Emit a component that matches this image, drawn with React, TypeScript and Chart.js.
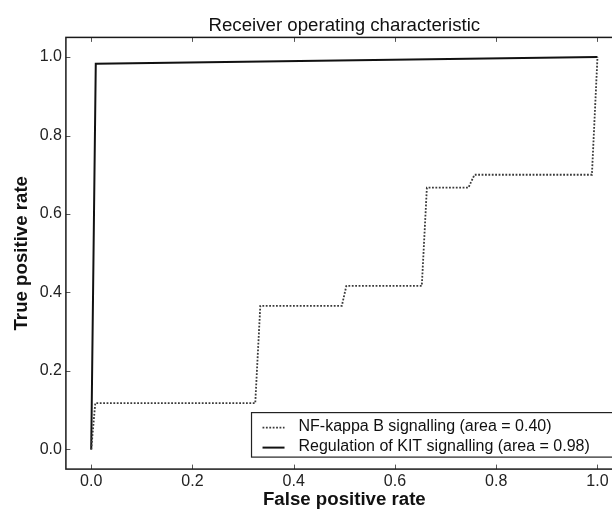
import { useEffect, useRef } from "react";
import { Chart, registerables } from "chart.js";

Chart.register(...registerables);

// ROC curve points (false positive rate, true positive rate)
const nfkbFpr = [0, 0.008, 0.324, 0.334, 0.495, 0.504, 0.653, 0.663, 0.745, 0.757, 0.989, 1.0];
const nfkbTpr = [0, 0.118, 0.118, 0.366, 0.366, 0.417, 0.417, 0.667, 0.667, 0.7, 0.7, 1.0];
const kitFpr = [0, 0.009, 1.0];
const kitTpr = [0, 0.983, 1.0];

const seriesLabels = [
  "NF-kappa B signalling (area = 0.40)",
  "Regulation of KIT signalling (area = 0.98)",
];
const tickValues = [0, 0.2, 0.4, 0.6, 0.8, 1.0];
const titleText = "Receiver operating characteristic";
const xTitle = "False positive rate";
const yTitle = "True positive rate";

const FONT = '"Liberation Sans", Arial, Helvetica, sans-serif';
const CANVAS_W = 640;
const CANVAS_H = 511;

const toPoints = (xs: number[], ys: number[]) => xs.map((x, i) => ({ x, y: ys[i] }));

// Axes frame with inward-pointing tick marks on all four sides
const frameTicks = {
  id: "frameTicks",
  afterDatasetsDraw(chart: any) {
    const { ctx, chartArea: a, scales } = chart;
    ctx.save();
    ctx.strokeStyle = "#555";
    ctx.lineWidth = 1;
    const len = 4.5;
    ctx.beginPath();
    for (const v of tickValues) {
      const px = Math.round(scales.x.getPixelForValue(v)) + 0.5;
      ctx.moveTo(px, a.bottom);
      ctx.lineTo(px, a.bottom - len);
      ctx.moveTo(px, a.top);
      ctx.lineTo(px, a.top + len);
      const py = Math.round(scales.y.getPixelForValue(v)) + 0.5;
      ctx.moveTo(a.left, py);
      ctx.lineTo(a.left + len, py);
      ctx.moveTo(a.right, py);
      ctx.lineTo(a.right - len, py);
    }
    ctx.stroke();
    ctx.strokeStyle = "#1a1a1a";
    ctx.lineWidth = 1.5;
    ctx.strokeRect(a.left, a.top, a.right - a.left, a.bottom - a.top);
    ctx.restore();
  },
};

// Legend boxed in the lower right corner of the plot
const insetLegend = {
  id: "insetLegend",
  afterDraw(chart: any) {
    const { ctx, chartArea: a } = chart;
    const ds = chart.data.datasets;
    ctx.save();
    ctx.font = `16px ${FONT}`;
    const textW = Math.max(...ds.map((d: any) => ctx.measureText(d.label).width));
    const right = a.right - 8;
    const bottom = a.bottom - 12;
    const width = 47 + textW + 25;
    const height = 44.5;
    const left = right - width;
    const top = bottom - height;
    ctx.fillStyle = "#fff";
    ctx.fillRect(left, top, width, height);
    ctx.strokeStyle = "#222";
    ctx.lineWidth = 1.2;
    ctx.strokeRect(left, top, width, height);
    ds.forEach((d: any, i: number) => {
      const y = top + 15 + i * 20;
      ctx.beginPath();
      ctx.setLineDash(d.borderDash || []);
      ctx.strokeStyle = d.borderColor;
      ctx.lineWidth = d.borderWidth;
      ctx.moveTo(left + 11, y);
      ctx.lineTo(left + 33, y);
      ctx.stroke();
      ctx.setLineDash([]);
      ctx.fillStyle = "#111";
      ctx.textBaseline = "middle";
      ctx.textAlign = "left";
      ctx.fillText(d.label, left + 47, y - 1);
    });
    ctx.restore();
  },
};

export default function App() {
  const canvasRef = useRef<HTMLCanvasElement | null>(null);

  useEffect(() => {
    const canvas = canvasRef.current;
    if (!canvas) return;
    const tickFont = { family: FONT, size: 16 };
    const axisTitleFont = { family: FONT, size: 18.67, weight: "bold" as const, lineHeight: 1.2 };
    const chart = new Chart(canvas, {
      type: "line",
      data: {
        datasets: [
          {
            label: seriesLabels[0],
            data: toPoints(nfkbFpr, nfkbTpr),
            borderColor: "#3a3a3a",
            borderWidth: 1.8,
            borderDash: [1.8, 1.6],
            pointRadius: 0,
            tension: 0,
            fill: false,
          },
          {
            label: seriesLabels[1],
            data: toPoints(kitFpr, kitTpr),
            borderColor: "#111",
            borderWidth: 2,
            pointRadius: 0,
            tension: 0,
            fill: false,
          },
        ],
      },
      options: {
        responsive: false,
        animation: false,
        layout: { padding: { left: 0, top: 0, bottom: 0, right: CANVAS_W - 622.8 } },
        plugins: {
          legend: { display: false },
          tooltip: { enabled: false },
          title: {
            display: true,
            text: titleText,
            fullSize: false,
            color: "#111",
            font: { family: FONT, size: 18.67, weight: "normal", lineHeight: 1.2 },
            padding: { top: 14.3, bottom: 0.7 },
          },
        },
        scales: {
          x: {
            type: "linear",
            min: -0.05,
            max: 1.05,
            grid: { display: false, drawTicks: false },
            border: { display: false },
            ticks: {
              includeBounds: false,
              stepSize: 0.2,
              autoSkip: false,
              maxRotation: 0,
              padding: 3,
              color: "#222",
              font: tickFont,
              callback: (v: any) => Number(v).toFixed(1),
            },
            afterBuildTicks: (s: any) => {
              s.ticks = tickValues.map((value) => ({ value }));
            },
            afterFit: (s: any) => {
              s.height = CANVAS_H - 469.1;
            },
            title: {
              display: true,
              text: xTitle,
              color: "#111",
              font: axisTitleFont,
              padding: { top: 0, bottom: 0.3 },
            },
          },
          y: {
            type: "linear",
            min: -0.05,
            max: 1.05,
            grid: { display: false, drawTicks: false },
            border: { display: false },
            ticks: {
              includeBounds: false,
              stepSize: 0.2,
              autoSkip: false,
              padding: 4,
              color: "#222",
              font: tickFont,
              callback: (v: any) => Number(v).toFixed(1),
            },
            afterBuildTicks: (s: any) => {
              s.ticks = tickValues.map((value) => ({ value }));
            },
            afterFit: (s: any) => {
              s.width = 65.9;
            },
            title: {
              display: true,
              text: yTitle,
              color: "#111",
              font: axisTitleFont,
              padding: { top: 10.6, bottom: 0 },
            },
          },
        },
      },
      plugins: [frameTicks, insetLegend],
    });
    return () => chart.destroy();
  }, []);

  return (
    <div
      style={{
        position: "fixed",
        left: 0,
        top: 0,
        width: 612,
        height: CANVAS_H,
        overflow: "hidden",
        background: "#fff",
      }}
    >
      <canvas
        ref={canvasRef}
        width={CANVAS_W}
        height={CANVAS_H}
        style={{ display: "block", width: CANVAS_W, height: CANVAS_H }}
      />
    </div>
  );
}
